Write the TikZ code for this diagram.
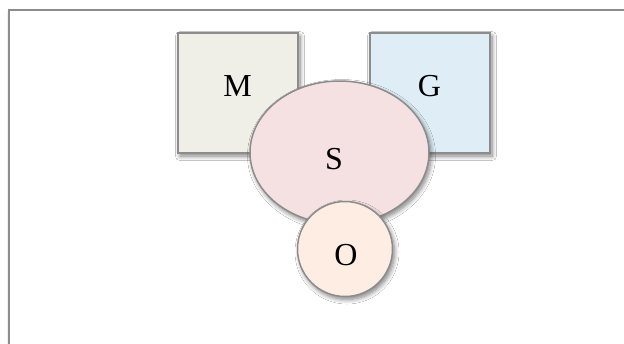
\documentclass[tikz,border=0pt]{standalone}
\usepackage{fontspec}
\setmainfont{Liberation Serif}
\usetikzlibrary{shapes.geometric,shadows.blur}

\definecolor{edgegray}{HTML}{8C8C8C}
\definecolor{mfill}{HTML}{EFEFE7}
\definecolor{gfill}{HTML}{DFEEF6}
\definecolor{sfill}{HTML}{F5E1E1}
\definecolor{ofill}{HTML}{FDEDE3}

\tikzset{
  softshadow/.style={blur shadow={shadow xshift=2pt, shadow yshift=-3pt,
      shadow blur radius=4.5pt, shadow blur steps=8, shadow opacity=50}},
  shapebox/.style={draw=edgegray, line width=1.5pt, inner sep=0pt, softshadow},
  sqbox/.style={shapebox, rectangle, minimum width=120pt, minimum height=120pt},
  lbl/.style={anchor=base, inner sep=0pt, font=\fontsize{32}{32}\selectfont},
}

\begin{document}
\begin{tikzpicture}[x=1pt, y=-1pt]
  \useasboundingbox (0,0) rectangle (624,343);
  \clip (0,0) rectangle (624,343);

  % outer panel, running off the right and bottom edges
  \draw[draw=edgegray, line width=1.6pt, fill=white, softshadow]
    (9,10) rectangle (660,380);

  % the two squares behind
  \node[sqbox, fill=mfill] (M) at (238,93) {};
  \node[sqbox, fill=gfill] (G) at (430,93) {};

  % the ellipse in the middle
  \node[shapebox, ellipse, fill=sfill, minimum width=179pt, minimum height=143pt] (S) at (339.5,152.5) {};

  % the circle in front
  \node[shapebox, circle, fill=ofill, minimum size=95pt] (O) at (345,249) {};

  % labels
  \node[lbl] (Mt) at (237.5,96) {M};
  \node[lbl] (Gt) at (429.5,96) {G};
  \node[lbl] (St) at (334,169) {S};
  \node[lbl] (Ot) at (346,265) {O};
\end{tikzpicture}
\end{document}
